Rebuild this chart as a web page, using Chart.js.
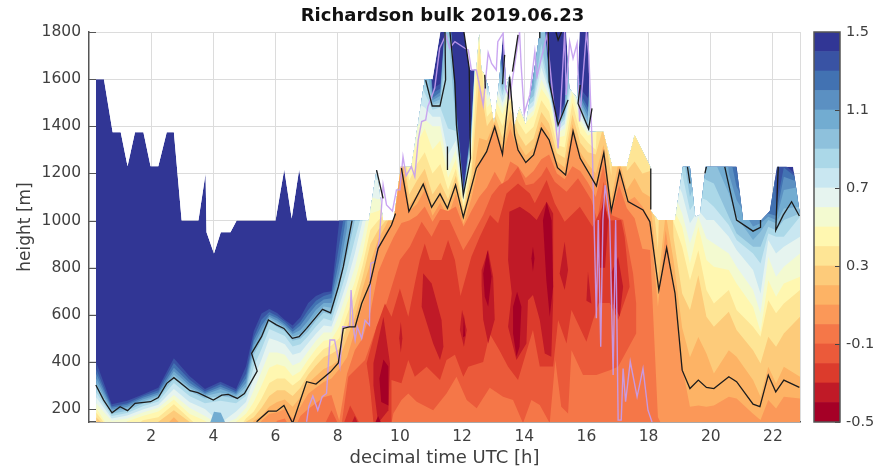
<!DOCTYPE html>
<html><head><meta charset="utf-8">
<style>html,body{margin:0;padding:0;background:#fff}#w{position:relative;width:885px;height:469px}canvas{position:absolute;top:0}</style>
<script src="https://cdn.jsdelivr.net/npm/chart.js@4"></script>
</head><body><div id="w"><canvas id="m" width="885" height="469" style="left:0"></canvas><canvas id="c" width="79" height="469" style="left:806px"></canvas></div>
<script>
const X=2000; // above the data field
const chartTitle='Richardson bulk 2019.06.23', xTitle='decimal time UTC [h]', yTitle='height [m]';
const xTickValues=[2,4,6,8,10,12,14,16,18,20,22], yTickValues=[200,400,600,800,1000,1200,1400,1600,1800];
const cbarTicks=[-0.5,-0.1,0.3,0.7,1.1,1.5];
const bandColors=['#A50026','#C01A27','#DC3B2C','#EB5A3A','#F57748','#FB9858','#FDB365','#FDCB7A','#FEE595','#FFF7B0','#F3FAD0','#E6F4EF','#C9E7F1','#ABD8E8','#8EC1DC','#72ACD1','#5B90C2','#4272B2','#3953A4','#313695'];
const bandEdges=[-0.5,-0.4,-0.3,-0.2,-0.1,0,0.1,0.2,0.3,0.4,0.5,0.6,0.7,0.8,0.9,1.0,1.1,1.2,1.3,1.4,1.5];

// outer edge of the field (white above)
const domainT=[0.22,.48,.76,1.02,1.24,1.48,1.75,1.98,2.23,2.5,2.73,2.98,3.52,3.75,3.78,4.02,4.24,4.55,4.75,6.0,6.28,6.52,6.76,7.02,9.0,9.25,9.46,9.8,10.03,10.37,10.8,11.05,11.3,12.06,12.25,12.46,12.55,12.62,12.72,12.84,13.03,13.2,13.32,13.42,13.53,13.68,13.85,14.05,14.3,14.5,15.35,15.45,15.7,15.78,16.07,16.1,16.54,16.83,17.3,17.55,18.05,18.07,18.3,18.85,19.1,19.33,19.5,19.65,19.84,20.83,21.04,21.63,21.9,22.13,22.65,22.87];
const domainH=[1600,1600,1375,1375,1230,1375,1375,1230,1230,1375,1375,1000,1000,1200,950,860,950,950,1000,1000,1217,1009,1217,1000,1000,1215,1000,1000,1228,1228,1600,1600,1800,1800,1640,1640,1790,1640,1620,1570,1405,1600,1800,1560,1620,1400,1480,1405,1620,1800,1800,1560,1520,1800,1800,1377,1377,1229,1229,1363,1229,1040,1002,1002,1228,1228,1016,1023,1228,1228,1002,1002,1040,1228,1228,1023];

const times=[.23,.73,1.23,1.73,2.23,2.73,3.23,3.73,4.23,4.73,
 5.05,5.3,5.55,5.8,6.05,6.3,6.55,6.8,7.05,7.3,7.55,7.8,8.05,
 8.3,8.55,8.8,9.05,9.3,9.55,9.8,10.05,10.3,10.55,10.8,11.05,11.3,11.55,11.8,12.05,12.3,12.55,12.8,
 13.05,13.3,13.55,13.8,14.05,14.3,14.55,14.8,15.05,15.3,15.55,15.8,16.05,16.3,16.55,16.8,17.05,17.3,17.55,17.8,18.05,18.3,18.55,18.8,
 19.08,19.33,19.6,19.86,20.1,20.58,20.83,21.36,21.6,21.85,22.1,22.35,22.87];

// upper edge of "value below level" per time
const top14=[400,220,235,262,290,415,340,285,316,285, 380,530,605,625,608,578,555,590,650,680,695,700,1000,
 X,X,X,X,X,X,X,X,X,X,X,1560,1580,X,1505,1137,1410,X,X,
 X,1650,X,X,X,X,X,1618,1427,1505,X,1560,1520,X,X,X,X,X,X,X,X,X,X,X,
 X,X,X,X,X,X,1240,X,X,X,X,1240,1180];
const top13=[370,212,225,255,280,395,325,275,305,275, 350,505,580,612,595,570,540,570,620,660,680,690,900,
 1100,X,X,X,X,X,X,X,X,X,X,1540,1560,X,1490,1130,1400,X,X,
 X,1630,X,X,X,X,X,1605,1415,1490,X,1540,1480,X,X,X,X,X,X,X,X,X,X,X,
 X,X,X,X,X,X,1200,X,X,X,1060,1225,1170];
const top12=[350,205,218,248,270,375,312,268,295,268, 330,490,555,600,585,560,528,555,600,640,665,670,830,
 1040,X,X,X,X,X,X,X,X,X,X,1520,1545,X,1480,1125,1395,X,X,
 X,1610,X,X,X,X,X,1595,1410,1480,X,1525,1460,X,X,X,X,X,X,X,X,X,X,X,
 X,X,X,X,X,1300,1143,1010,1010,1030,1020,1186,1160];
const top11=[330,198,210,240,262,360,300,262,285,262, 310,470,535,592,575,552,518,535,575,620,650,650,780,
 970,X,X,X,X,X,X,X,X,X,X,1510,1530,X,1460,1120,1385,X,X,
 X,1590,X,1700,1600,X,X,1585,1405,1470,X,1510,1440,X,X,X,X,X,X,X,X,X,X,X,
 X,X,X,X,X,1200,1087,975,988,1016,1002,1129,1143];
const top10=[310,190,203,232,255,345,290,255,270,255, 295,455,515,584,565,545,508,518,555,600,635,630,750,
 900,1100,X,X,X,X,X,X,X,X,1700,1500,1515,X,1440,1115,1375,X,X,
 X,1570,X,1600,1520,1560,X,1575,1400,1460,X,1495,1420,X,X,X,X,X,X,X,X,X,X,X,
 X,1160,1300,1300,1260,1115,1016,917,952,1002,988,1051,1058];
const top09=[290,180,193,224,245,330,275,245,255,245, 275,430,495,570,548,530,490,498,530,575,610,600,720,
 850,1000,1100,1300,1300,1300,1400,X,X,1700,1590,1490,1500,1800,1410,1110,1360,X,1570,
 1700,1550,1700,1560,1496,1528,1750,1565,1395,1445,1700,1480,1405,X,X,X,X,X,X,X,X,X,X,X,
 1300,1101,1200,1172,1157,1016,945,889,889,974,959,1002,1030];
const top08=[270,170,183,212,232,310,255,225,235,225, 255,380,455,540,525,510,465,475,510,550,585,575,680,
 790,920,1040,1240,1210,1200,1350,1700,1700,1600,1540,1470,1480,1390,1380,1105,1340,X,1550,
 1650,1530,1650,1540,1476,1508,1700,1555,1390,1430,1640,1465,1395,1500,X,X,X,X,X,X,X,X,X,X,
 1200,1044,1100,1087,1058,981,917,860,818,945,931,931,1016];
const top07=[250,160,173,198,218,285,230,200,140,190, 230,330,410,500,490,475,430,440,480,520,555,550,640,
 740,860,1000,1180,1170,1150,1300,1600,1500,1500,1480,1440,1440,1280,1340,1095,1320,X,1530,
 1600,1500,1600,1520,1456,1488,1650,1545,1380,1410,1600,1450,1385,1400,X,X,X,X,X,X,X,X,X,1200,
 1115,988,1044,1002,1002,931,875,790,690,917,860,889,931];
const top06=[225,150,160,185,205,260,205,170,130,160, 205,280,360,440,440,430,385,400,445,490,525,525,600,
 700,800,930,1100,1090,1100,1260,1500,1350,1400,1430,1400,1400,1220,1300,1085,1300,X,1510,
 1560,1480,1570,1490,1436,1468,1600,1530,1370,1390,1580,1430,1375,1375,X,X,X,X,X,X,X,X,X,1120,
 1030,903,1016,924,903,860,804,705,606,846,761,804,860];
const top05=[205,100,148,170,190,240,180,150,100,146, 180,230,300,375,390,380,340,360,410,455,490,495,550,
 650,740,860,1030,1040,1060,1220,1400,1240,1330,1390,1300,1340,1180,1260,1075,1280,X,1480,
 1520,1450,1540,1470,1416,1448,1560,1510,1350,1360,1540,1410,1360,1380,X,X,X,X,X,X,X,X,X,1050,
 974,818,974,832,804,790,733,634,528,747,676,733,761];
const top04=[185,100,100,152,165,220,160,100,100,100, 160,190,245,310,330,330,300,325,375,420,455,470,500,
 600,690,810,960,1000,1030,1180,1350,1170,1240,1290,1200,1240,1130,1220,1060,1240,1750,1440,
 1480,1400,1510,1420,1366,1398,1510,1462,1320,1310,1500,1370,1330,1300,X,1300,X,X,1340,X,X,1002,X,995,
 889,747,874,705,648,705,620,549,507,662,606,648,705];
const top03=[165,100,100,100,146,195,146,100,100,100, 146,165,205,255,280,280,255,290,345,385,420,435,455,
 550,640,760,900,960,1000,1130,1320,1110,1170,1220,1110,1160,1090,1190,1040,1190,1600,1400,
 1450,1350,1470,1370,1316,1348,1460,1412,1285,1265,1450,1330,1290,1280,1400,1190,X,1210,1250,1200,1210,875,X,931,
 690,620,768,592,549,613,535,450,393,507,464,521,592];
const top02=[100,100,100,100,100,165,100,100,100,100, 100,150,170,210,230,240,210,250,310,340,370,385,410,
 500,590,710,820,920,980,1050,1280,1065,1110,1170,1060,1120,1050,1160,1020,1140,1350,1340,
 1420,1310,1430,1330,1276,1308,1420,1372,1250,1225,1410,1290,1240,1200,1320,1090,1260,1130,1180,1120,1100,733,1030,832,
 545,420,506,436,351,450,422,323,252,379,308,379,337];
const top01=[100,100,100,100,100,100,100,100,100,100, 100,100,150,180,185,200,160,210,265,290,315,330,370,
 420,530,640,735,880,950,1000,1235,1040,1070,1130,1020,1075,1015,1115,985,1095,1245,1285,
 1398,1281,1390,1299,1246,1278,1391,1342,1224,1193,1380,1264,1200,1147,1288,1040,1210,1080,1100,1060,1000,634,960,719,
 380,210,215,210,215,252,245,180,153,238,202,252,245];
const top00=[100,100,100,100,100,100,100,100,100,100, 100,100,100,100,150,160,100,170,200,225,250,260,150,
 350,450,500,610,780,860,930,990,1000,1020,1060,995,1050,1040,1060,975,1040,1100,1140,
 1207,1151,1250,1230,1180,1210,1260,1280,1200,1175,1230,1210,1160,1100,1236,1023,1150,1052,1010,880,875,165,100,100,
 100,100,100,100,100,100,100,100,100,100,100,100,100];

// closed areas [t,h, t,h, ...]
const areaBlue=[3.89,140,4.02,188,4.24,184,4.39,140];
const areaM01=[8.13,140,8.34,337,8.88,408,9.25,549,9.57,648,10.0,832,10.32,889,10.7,995,11.02,931,11.29,1002,11.6,1002,12.04,874,12.3,931,12.68,1023,12.95,1108,13.2,1150,13.48,1172,13.8,1228,14.05,1150,14.3,1157,14.55,1190,14.72,1228,14.98,1165,15.36,1122,15.73,1179,16.16,1087,16.35,1000,16.55,1165,16.8,1023,17.18,1002,17.5,776,17.6,648,17.6,521,17.02,379,16.75,365,16.32,344,15.89,344,15.52,450,15.41,181,15.19,210,15.0,408,14.82,140,14.5,217,14.23,238,13.96,140,13.64,238,13.32,252,12.89,290,12.47,203,12.15,238,11.82,337,11.5,266,11.07,195,10.54,231,10.27,266,10.05,238,9.79,181,9.73,140];
const areaM01b=[7.6,140,7.8,195,8.0,140];
const areaM02=[8.93,394,9.25,549,9.52,648,9.73,592,10.0,712,10.27,592,10.48,733,10.64,832,10.8,903,10.96,832,11.34,832,11.55,917,11.77,832,11.95,680,12.3,846,12.57,931,12.9,1023,13.16,988,13.43,1115,13.8,1157,14.18,1115,14.34,1073,14.72,1172,14.98,1073,15.3,995,15.79,1058,16.2,974,16.55,1070,16.75,1000,17.12,1002,17.23,931,17.39,719,17.02,578,16.75,650,16.4,650,16.21,577,16.0,486,15.52,620,15.36,478,15.09,578,14.93,380,14.5,380,14.28,535,13.8,323,13.48,379,13.2,450,12.89,520,12.68,400,12.2,379,12.04,337,11.77,430,11.5,408,11.29,323,10.86,379,10.48,337,10.27,408,10.05,309,9.73,323,9.73,140,9.15,140,9.04,295];
const areaM02b=[8.2,140,8.4,215,8.7,140];
const areaM03a=[9.15,395,9.47,592,9.68,394,9.63,195,9.3,140,9.15,300];
const areaM03b=[9.98,500,10.03,570,10.08,500,10.03,440];
const areaM03c=[10.75,776,11.02,733,11.34,578,11.4,464,11.29,408,11.07,478,10.7,634,10.73,720];
const areaM03d=[12.0,620,12.15,535,12.06,464,11.93,535];
const areaM03e=[12.63,790,12.84,875,13.0,760,13.05,580,12.84,478,12.68,580,12.63,720];
const areaM03f=[13.52,1037,13.86,1058,14.18,1030,14.4,1002,14.72,1080,14.93,1030,14.93,662,14.87,422,14.66,436,14.5,578,14.28,684,14.12,662,14.07,478,13.75,408,13.48,549,13.6,690,13.48,832];
const areaM03g=[16.05,783,16.16,648,16.0,660];
const areaM03h=[16.45,1000,16.55,1100,16.7,1000,16.6,800,16.4,800];
const areaM03i=[17.02,846,17.18,719,17.07,592,16.86,648,16.81,780];
const areaM03j=[15.3,910,15.41,790,15.3,705,15.14,775];
const areaM03k=[8.45,140,8.55,170,8.65,140];
const areaM04a=[9.47,410,9.63,380,9.63,215,9.4,230,9.34,330];
const areaM04b=[9.2,140,9.3,170,9.4,140];
const areaM04c=[12.68,775,12.82,875,12.95,762,12.84,634,12.73,677];
const areaM04d=[12.06,605,12.1,510,12.03,505];
const areaM04f=[13.64,634,13.77,698,13.91,634,13.85,464,13.75,422,13.64,521];
const areaM04g=[14.6,1000,14.72,1080,14.88,1000,14.93,720,14.82,592,14.71,747];
const areaM04h=[14.28,889,14.33,840,14.28,783,14.23,840];

const purpleLine=[7.0,146,7.07,210,7.2,255,7.36,195,7.5,252,7.64,266,7.75,493,7.9,493,8.07,380,8.16,549,8.39,549,8.43,705,8.5,549,8.56,493,8.63,549,8.77,500,8.88,577,9.02,556,9.06,818,9.2,825,9.34,917,9.38,1002,9.46,1151,9.57,1066,9.76,1040,9.89,1130,10.0,1130,10.1,1271,10.2,1190,10.37,1229,10.48,1186,10.59,1342,10.7,1420,10.83,1427,10.9,1483,11.12,1561,11.28,1731,11.48,1788,11.6,1731,11.77,1759,12.09,1731,12.2,1724,12.3,1639,12.46,1639,12.68,1490,12.84,1712,12.95,1667,13.1,1639,13.15,1759,13.32,1795,13.4,1560,13.53,1519,13.85,1800,13.9,1660,14.0,1455,14.18,1533,14.34,1717,14.41,1611,14.73,1788,14.8,1690,15.09,1306,15.14,1405,15.3,1800,15.35,1533,15.46,1759,15.57,1688,15.7,1752,15.78,1420,16.0,1800,16.08,1700,16.19,1300,16.32,585,16.38,1002,16.46,464,16.53,1002,16.6,1150,16.75,1000,16.86,344,16.94,1002,17.02,153,17.12,153,17.18,372,17.26,231,17.41,401,17.63,252,17.82,372,17.98,195,18.11,145];

const black1=[.22,302,.47,238,.74,184,1.0,210,1.24,193,1.48,224,1.98,231,2.23,249,2.5,309,2.73,333,3.25,278,3.5,270,4.0,238,4.27,259,4.48,262,4.77,245,5.0,266,5.41,361,5.23,436,5.55,507,5.77,578,6.03,557,6.27,542,6.54,500,6.76,507,7.0,542,7.51,623,7.77,608,8.02,719,8.18,804,8.32,903,8.46,1000];
const black2=[5.39,146,5.77,191,6.03,191,6.27,215,6.55,140,7.0,316,7.3,306,7.77,358,8.02,396,8.18,542,8.37,549,8.56,549,8.77,648,9.04,733,9.3,882,9.73,981,9.86,1030];
const black3=[10.05,1222,10.29,1038,10.75,1154,11.02,1056,11.29,1113,11.53,1052,11.79,1151,12.04,1014,12.46,1222,12.79,1292,13.05,1398,13.3,1281,13.48,1512,13.53,1611,13.69,1363,13.8,1299,14.05,1246,14.3,1278,14.55,1391,14.8,1342,15.07,1224,15.33,1193,15.57,1380,15.8,1264,16.32,1147,16.56,1288,16.8,1040,17.07,1210,17.34,1080,17.82,1045,18.04,995,18.33,705,18.58,884,18.85,691,19.08,365,19.33,287,19.6,323,19.86,292,20.1,287,20.58,337,20.83,316,21.36,221,21.58,210,21.85,344,22.09,273,22.35,323,22.85,292];
const black4=[9.25,1214,9.46,1094];
const black5=[10.83,1596,11.04,1486,11.29,1486,11.47,1597,11.45,1800];
const black6=[11.61,1802,11.77,1582,11.82,1405,12.04,1108,12.27,1264,12.23,1646,12.06,1800];
const black7=[11.53,1314,11.53,1214];
const black8=[12.73,1618,12.75,1560];
const black9=[13.3,1578,13.37,1703];
const black10=[13.62,1632,13.8,1788];
const black11=[14.77,1800,14.8,1589,15.09,1405,15.41,1512];
const black12=[15.02,1800,15.09,1766,15.2,1800];
const black13=[15.8,1575,15.73,1497,16.07,1389,16.18,1476];
const black14=[18.07,1221,18.07,1047];
const black15=[19.25,1228,19.33,1157];
const black16=[19.81,1200,19.86,1228];
const black17=[20.45,1228,20.83,1002,21.36,955,21.6,971,21.6,1002];
const black18=[22.17,1228,22.09,959,22.33,1023,22.6,1080,22.85,1019];
const black19=[14.5,1800,14.5,1773];

const xMin=0,xMax=22.87,yMin=145,yMax=1800;
const pairs=a=>{const o=[];for(let i=0;i<a.length;i+=2)o.push({x:a[i],y:a[i+1]});return o;};
const zip=(t,h)=>t.map((v,i)=>({x:v,y:h[i]}));
const paint=[]; // back to front
const area=(pts,color,fill)=>paint.push({data:pts,backgroundColor:color,borderColor:'rgba(0,0,0,0)',fill:fill,showLine:true,pointRadius:0,tension:0,borderWidth:1});
area(zip(domainT,domainH),bandColors[19],'start');
[top14,top13,top12,top11,top10,top09,top08,top07,top06,top05,top04,top03,top02,top01,top00].forEach((h,i)=>area(zip(times,h),bandColors[18-i],'start'));
area(pairs(areaBlue),bandColors[15],'shape');
[areaM01,areaM01b].forEach(a=>area(pairs(a),bandColors[3],'shape'));
[areaM02,areaM02b].forEach(a=>area(pairs(a),bandColors[2],'shape'));
[areaM03a,areaM03b,areaM03c,areaM03d,areaM03e,areaM03f,areaM03g,areaM03h,areaM03i,areaM03j,areaM03k].forEach(a=>area(pairs(a),bandColors[1],'shape'));
[areaM04a,areaM04b,areaM04c,areaM04d,areaM04f,areaM04g,areaM04h].forEach(a=>area(pairs(a),bandColors[0],'shape'));
const firstOverlay=paint.length;
const trace=(a,c,w)=>paint.push({data:pairs(a),borderColor:c,borderWidth:w,backgroundColor:c,fill:false,showLine:true,pointRadius:0,tension:0});
trace(purpleLine,'rgba(196,156,240,0.9)',1.4);
[black1,black2,black3,black4,black5,black6,black7,black8,black9,black10,black11,black12,black13,black14,black15,black16,black17,black18,black19].forEach(a=>trace(a,'#1c1c1c',1.3));
paint.forEach((d,i)=>d.order=paint.length-i);

const txt='#3f3f3f', fam='"DejaVu Sans"';
const axisFrame={
 id:'axisFrame',
 beforeDatasetsDraw(ch){
  const c=ch.ctx,{left,right,top,bottom}=ch.chartArea,sx=ch.scales.x,sy=ch.scales.y;
  c.save();c.strokeStyle='#555';c.lineWidth=1;c.beginPath();
  yTickValues.forEach(v=>{const p=Math.round(sy.getPixelForValue(v))+.5;c.moveTo(left,p);c.lineTo(left+7,p);});
  xTickValues.forEach(v=>{const p=Math.round(sx.getPixelForValue(v))+.5;c.moveTo(p,bottom);c.lineTo(p,bottom-7);});
  c.stroke();c.restore();
  c.save();c.beginPath();
  domainT.forEach((t,i)=>{const px=sx.getPixelForValue(t),py=sy.getPixelForValue(domainH[i]);i?c.lineTo(px,py):c.moveTo(px,py);});
  c.lineTo(sx.getPixelForValue(domainT[domainT.length-1]),bottom);c.lineTo(sx.getPixelForValue(domainT[0]),bottom);c.closePath();c.clip();
 },
 beforeDatasetDraw(ch,args){ if(args.index===firstOverlay) ch.ctx.restore(); }
};
new Chart(document.getElementById('m'),{
 type:'scatter',
 data:{datasets:paint},
 plugins:[axisFrame],
 options:{responsive:false,animation:false,events:[],
  layout:{padding:0},
  plugins:{legend:{display:false},tooltip:{enabled:false},
   title:{display:true,text:chartTitle,color:'#111',font:{family:fam,size:18,weight:'bold'},padding:{top:6,bottom:4.4}}},
  scales:{
   x:{type:'linear',min:xMin,max:xMax,
    afterBuildTicks:s=>{s.ticks=xTickValues.concat([xMax]).map(v=>({value:v}));},
    afterFit:s=>{s.height=47;},
    grid:{color:'#dcdcdc',drawTicks:false,lineWidth:1},border:{color:'#555',width:1.5},
    ticks:{color:txt,font:{family:fam,size:15.5},padding:6,maxRotation:0,autoSkip:false,callback:v=>xTickValues.includes(v)?String(v):''},
    title:{display:true,text:xTitle,color:txt,font:{family:fam,size:18},padding:{top:0,bottom:0}}},
   y:{type:'linear',min:yMin,max:yMax,
    afterBuildTicks:s=>{s.ticks=yTickValues.map(v=>({value:v}));},
    afterFit:s=>{s.width=89;},
    grid:{color:'#dcdcdc',drawTicks:false,lineWidth:1},border:{color:'#555',width:1.5},
    ticks:{color:txt,font:{family:fam,size:15.5},padding:8,autoSkip:false,callback:v=>String(v)},
    title:{display:true,text:yTitle,color:txt,font:{family:fam,size:17},padding:{top:15,bottom:0}}},
   ySpace:{type:'linear',axis:'y',position:'right',min:0,max:1,
    afterBuildTicks:s=>{s.ticks=[];},afterFit:s=>{s.width=85;},
    grid:{display:false,drawTicks:false},border:{display:false},ticks:{display:false}}
  }}
});
// colour bar
const cbarTickMarks={id:'cbarTickMarks',afterDatasetsDraw(ch){
  const c=ch.ctx,{right}=ch.chartArea,sy=ch.scales.y;
  c.save();c.strokeStyle='#444';c.lineWidth=1;c.beginPath();
  cbarTicks.forEach(v=>{const p=Math.round(sy.getPixelForValue(v))+.5;c.moveTo(right,p);c.lineTo(right-5,p);});
  c.stroke();
  const {left,top,bottom}=ch.chartArea;c.lineWidth=1.5;c.strokeStyle='#555';c.strokeRect(left,top,right-left,bottom-top);c.restore();
}};
new Chart(document.getElementById('c'),{
 type:'bar',
 data:{labels:['c'],datasets:bandColors.map((col,i)=>({data:[[bandEdges[i],bandEdges[i+1]]],backgroundColor:col,grouped:false,barPercentage:1,categoryPercentage:1,borderWidth:0}))},
 plugins:[cbarTickMarks],
 options:{responsive:false,animation:false,events:[],
  layout:{padding:{left:8,right:0,top:32,bottom:47}},
  plugins:{legend:{display:false},tooltip:{enabled:false}},
  scales:{
   x:{display:false},
   y:{position:'right',min:-0.5,max:1.5,
    afterBuildTicks:s=>{s.ticks=cbarTicks.map(v=>({value:v}));},
    afterFit:s=>{s.width=45;},
    grid:{display:false,drawTicks:false},border:{display:false},
    ticks:{color:txt,font:{family:fam,size:14.5},padding:6,autoSkip:false,callback:v=>Number(v).toFixed(1)}}
  }}
});
</script></body></html>
